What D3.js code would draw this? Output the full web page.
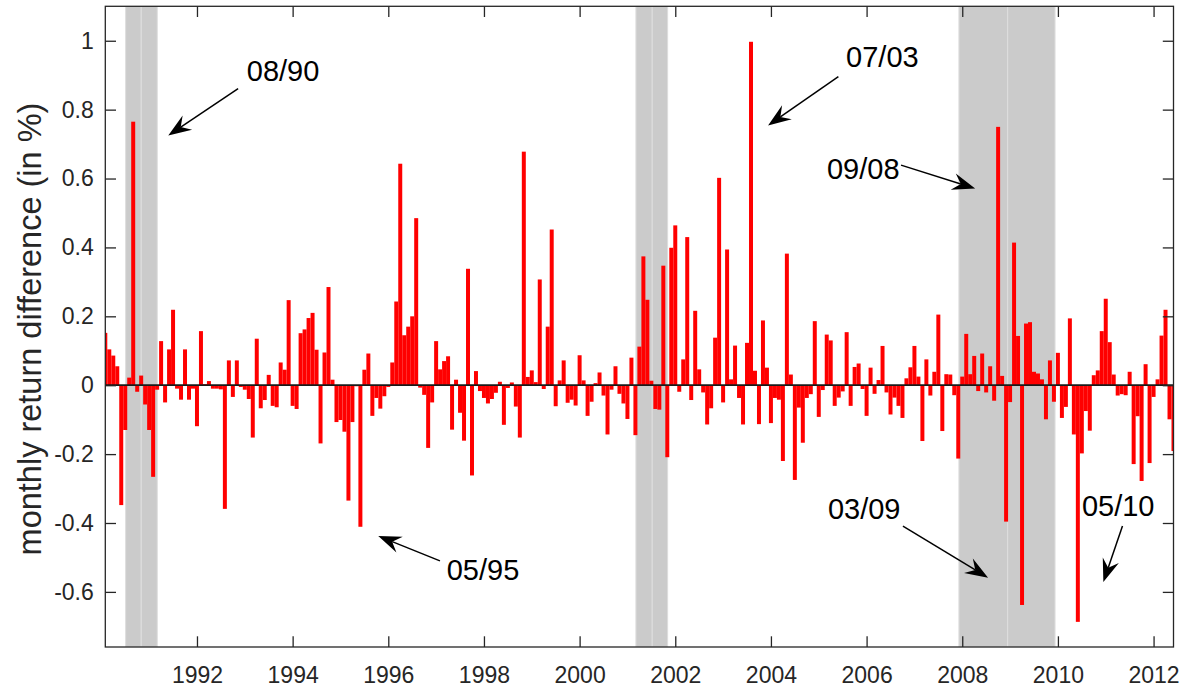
<!DOCTYPE html>
<html>
<head>
<meta charset="utf-8">
<script src="https://cdnjs.cloudflare.com/ajax/libs/d3/7.8.5/d3.min.js"></script>
<style>
  body { margin: 0; background: #fff; }
  text { font-family: "Liberation Sans", Arial, sans-serif; }
</style>
</head>
<body>
<div id="chart"></div>
<script>
// monthly return difference (in %), one value per month, Jan 1990 .. May 2012
let values = [
  0.152, 0.104, 0.086, 0.055, -0.348, -0.130, 0.022, 0.765, -0.019, 0.028, -0.056, -0.130,
  -0.266, -0.013, 0.128, -0.050, 0.104, 0.219, -0.010, -0.042, 0.104, -0.042, -0.010, -0.119,
  0.157, 0.003, 0.012, -0.010, -0.010, -0.012, -0.359, 0.072, -0.034, 0.072, -0.005, -0.013,
  -0.040, -0.152, 0.135, -0.067, -0.043, 0.030, -0.060, -0.064, 0.066, 0.045, 0.247, -0.060,
  -0.069, 0.151, 0.162, 0.195, 0.210, 0.103, -0.169, 0.095, 0.285, 0.016, -0.107, -0.101,
  -0.135, -0.335, -0.107, -0.003, -0.411, 0.045, 0.092, -0.089, -0.037, -0.068, -0.032, -0.005,
  0.066, 0.243, 0.643, 0.145, 0.170, 0.200, 0.485, -0.007, -0.028, -0.182, -0.050, 0.128,
  0.046, 0.070, 0.084, -0.129, 0.016, -0.080, -0.161, 0.338, -0.262, 0.041, -0.017, -0.037,
  -0.053, -0.040, -0.022, 0.010, -0.115, -0.008, 0.008, -0.062, -0.152, 0.678, 0.024, 0.043,
  0.009, 0.307, -0.011, 0.170, 0.452, -0.061, 0.014, 0.072, -0.051, -0.042, -0.059, 0.087,
  0.014, -0.089, -0.048, 0.006, 0.037, -0.030, -0.143, -0.013, 0.055, -0.025, -0.053, -0.098,
  0.080, -0.145, 0.112, 0.374, 0.248, 0.013, -0.069, -0.071, 0.347, -0.209, 0.399, 0.464,
  -0.019, 0.075, 0.430, -0.043, 0.216, 0.046, -0.021, -0.114, -0.067, 0.138, 0.602, -0.050,
  0.394, 0.017, 0.115, -0.037, -0.114, 0.123, 0.997, 0.042, -0.113, 0.188, 0.051, -0.110,
  -0.037, -0.042, -0.220, 0.382, 0.031, -0.275, -0.065, -0.167, -0.037, -0.026, 0.186, -0.092,
  -0.014, 0.147, 0.130, -0.060, -0.036, -0.018, 0.154, -0.060, 0.053, 0.063, -0.011, -0.089,
  0.051, -0.025, 0.015, 0.114, -0.021, -0.085, -0.036, -0.060, -0.095, 0.020, 0.052, 0.114,
  0.025, -0.162, 0.075, -0.030, 0.039, 0.205, -0.133, 0.032, 0.031, -0.029, -0.213, 0.025,
  0.149, 0.032, 0.085, -0.017, 0.092, -0.021, 0.055, -0.045, 0.750, 0.027, -0.396, -0.049,
  0.414, 0.143, -0.638, 0.179, 0.183, 0.039, 0.034, 0.017, -0.099, 0.072, -0.048, 0.094,
  -0.095, -0.063, 0.194, -0.143, -0.687, -0.198, -0.075, -0.132, 0.029, 0.043, 0.157, 0.251,
  0.125, 0.031, -0.030, -0.026, -0.029, 0.039, -0.229, -0.090, -0.278, 0.061, -0.226, -0.034,
  0.017, 0.144, 0.219, -0.099, -0.191
];
let startYear = 1990;

let xTicks = [1992, 1994, 1996, 1998, 2000, 2002, 2004, 2006, 2008, 2010, 2012];
let yTicks = [-0.6, -0.4, -0.2, 0, 0.2, 0.4, 0.6, 0.8, 1];

// shaded periods (decimal years)
let bandStart = [1990.508, 1990.835, 2001.177, 2001.518, 2007.930, 2008.950];
let bandEnd   = [1990.835, 1991.170, 2001.518, 2001.840, 2008.950, 2009.940];

// annotated months: label anchor and arrow (decimal year, value)
let noteText = ["08/90", "07/03", "09/08", "05/95", "03/09", "05/10"];
let noteX    = [1993.80, 2006.33, 2005.93, 1997.98, 2005.95, 2011.26];
let noteY    = [0.884, 0.925, 0.600, -0.565, -0.388, -0.380];
let arrowFrom = [[1992.86, 0.861], [2005.41, 0.896], [2006.72, 0.639], [1997.08, -0.510], [2006.76, -0.409], [2011.35, -0.409]];
let arrowTo   = [[1991.40, 0.725], [2003.94, 0.754], [2008.27, 0.571], [1995.79, -0.438], [2008.54, -0.559], [2010.95, -0.571]];

// month-end date of each observation as decimal year
let months = values.map((v, i) => startYear + (i + 1) / 12);

let width = 1187, height = 691;
let mLeft = 105.3, mRight = 1173.5, mTop = 6.3, mBottom = 647;

let svg = d3.select("#chart").append("svg")
    .attr("width", width)
    .attr("height", height);

let x = d3.scaleLinear()
    .domain([months[0], months[months.length - 1]])
    .range([mLeft, mRight]);

let y = d3.scaleLinear()
    .domain([-0.76, 1.1])
    .range([mBottom, mTop]);

svg.append("defs").append("clipPath")
    .attr("id", "plot")
    .append("rect")
    .attr("x", mLeft).attr("y", mTop)
    .attr("width", mRight - mLeft).attr("height", mBottom - mTop);

let plot = svg.append("g").attr("clip-path", "url(#plot)");

// grey periods
plot.selectAll("rect.band")
    .data(bandStart)
    .enter()
    .append("rect")
    .attr("class", "band")
    .attr("x", (d) => x(d))
    .attr("y", mTop)
    .attr("width", (d, i) => x(bandEnd[i]) - x(d))
    .attr("height", mBottom - mTop)
    .attr("fill", "#cbcbcb")
    .attr("stroke", "#dedede")
    .attr("stroke-width", 1);

// bars
let barW = x(months[1]) - x(months[0]);
plot.selectAll("rect.bar")
    .data(values)
    .enter()
    .append("rect")
    .attr("class", "bar")
    .attr("x", (d, i) => x(months[i]) - barW / 2)
    .attr("y", (d) => y(Math.max(d, 0)))
    .attr("width", barW)
    .attr("height", (d) => Math.abs(y(d) - y(0)))
    .attr("fill", "#ff0000");

// baseline
plot.append("line")
    .attr("x1", mLeft).attr("x2", mRight)
    .attr("y1", y(0)).attr("y2", y(0))
    .attr("stroke", "#1a1a1a")
    .attr("stroke-width", 1.8);

// axes, ticks pointing inwards on all four sides
let tickLen = 10.7;
let axisColor = "#262626";

svg.append("g")
    .attr("transform", `translate(0,${mBottom})`)
    .call(d3.axisBottom(x).tickValues(xTicks).tickFormat(d3.format("d"))
        .tickSizeInner(-tickLen).tickSizeOuter(0).tickPadding(20));

svg.append("g")
    .attr("transform", `translate(0,${mTop})`)
    .call(d3.axisTop(x).tickValues(xTicks).tickFormat("")
        .tickSizeInner(-tickLen).tickSizeOuter(0));

svg.append("g")
    .attr("transform", `translate(${mLeft},0)`)
    .call(d3.axisLeft(y).tickValues(yTicks).tickFormat((d) => String(+d.toFixed(1)))
        .tickSizeInner(-tickLen).tickSizeOuter(0).tickPadding(11.5));

svg.append("g")
    .attr("transform", `translate(${mRight},0)`)
    .call(d3.axisRight(y).tickValues(yTicks).tickFormat("")
        .tickSizeInner(-tickLen).tickSizeOuter(0));

svg.selectAll(".domain").remove();
svg.selectAll(".tick line")
    .attr("stroke", axisColor)
    .attr("stroke-width", 1.3);
svg.selectAll(".tick text")
    .attr("fill", axisColor)
    .style("font-size", "23px")
    .style("font-family", "'Liberation Sans', Arial, sans-serif");

// box
svg.append("rect")
    .attr("x", mLeft).attr("y", mTop)
    .attr("width", mRight - mLeft).attr("height", mBottom - mTop)
    .attr("fill", "none")
    .attr("stroke", axisColor)
    .attr("stroke-width", 1.3);

// y label
svg.append("text")
    .attr("transform", "translate(41,329) rotate(-90)")
    .attr("text-anchor", "middle")
    .attr("fill", axisColor)
    .style("font-size", "32.5px")
    .text("monthly return difference (in %)");

// annotations
noteText.forEach((t, i) => {
    svg.append("text")
        .attr("x", x(noteX[i]))
        .attr("y", y(noteY[i]))
        .attr("text-anchor", "middle")
        .attr("fill", "#000")
        .style("font-size", "29px")
        .text(t);
    drawArrow(x(arrowFrom[i][0]), y(arrowFrom[i][1]), x(arrowTo[i][0]), y(arrowTo[i][1]));
});

function drawArrow(x1, y1, x2, y2) {
    let dx = x2 - x1, dy = y2 - y1;
    let len = Math.sqrt(dx * dx + dy * dy);
    let ux = dx / len, uy = dy / len;
    let px = -uy, py = ux;
    let hl = 23, hw = 8.5, notch = 15;
    let bx = x2 - ux * hl, by = y2 - uy * hl;
    let nx = x2 - ux * notch, ny = y2 - uy * notch;
    svg.append("line")
        .attr("x1", x1).attr("y1", y1)
        .attr("x2", nx).attr("y2", ny)
        .attr("stroke", "#000")
        .attr("stroke-width", 1.5);
    svg.append("path")
        .attr("d", `M${x2},${y2}L${bx + px * hw},${by + py * hw}L${nx},${ny}L${bx - px * hw},${by - py * hw}Z`)
        .attr("fill", "#000");
}
</script>
</body>
</html>
